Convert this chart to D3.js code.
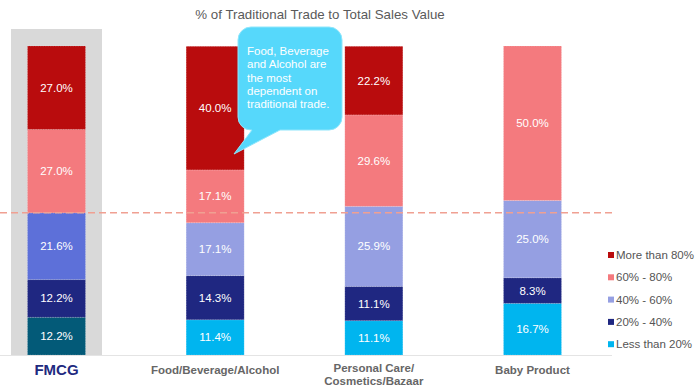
<!DOCTYPE html>
<html>
<head>
<meta charset="utf-8">
<script src="https://cdn.jsdelivr.net/npm/d3@7"></script>
<style>
  html, body { margin: 0; padding: 0; background: #fff; }
  svg { display: block; font-family: "Liberation Sans", Arial, Helvetica, sans-serif; }
</style>
</head>
<body>
<svg id="chart" width="700" height="391"></svg>
<script>
// ---- data ----
const title = "% of Traditional Trade to Total Sales Value";
const categories = ["FMCG", "Food/Beverage/Alcohol", "Personal Care/\nCosmetics/Bazaar", "Baby Product"];
const seriesNames = ["Less than 20%", "20% - 40%", "40% - 60%", "60% - 80%", "More than 80%"];
const lessThan20 = [12.2, 11.4, 11.1, 16.7];
const from20to40 = [12.2, 14.3, 11.1, 8.3];
const from40to60 = [21.6, 17.1, 25.9, 25.0];
const from60to80 = [27.0, 17.1, 29.6, 50.0];
const moreThan80 = [27.0, 40.0, 22.2, 0];
const referenceLevel = 46; // dashed line level (FMCG bottom three bands)
const calloutLines = ["Food, Beverage", "and Alcohol are", "the most", "dependent on", "traditional trade."];

// ---- styles ----
const colors = ["#00b5ef", "#1f2781", "#959fe2", "#f47a7e", "#b90c0d"];
const fmcgColors = ["#035a78", "#1f2781", "#5d70d9", "#f47a7e", "#b90c0d"];

const seriesValues = [lessThan20, from20to40, from40to60, from60to80, moreThan80];
const table = categories.map((c, i) => {
  const row = { category: c };
  seriesNames.forEach((s, j) => row[s] = seriesValues[j][i]);
  return row;
});

const svg = d3.select("#chart");
const x = d3.scalePoint().domain(categories).range([56.5, 532.5]);
const y = d3.scaleLinear().domain([0, 100]).range([355, 46]);
const barW = 58;

// FMCG highlight background
svg.append("rect")
  .attr("x", x(categories[0]) - 45.5).attr("y", 29)
  .attr("width", 91).attr("height", y(0) - 29)
  .attr("fill", "#d9d9d9");

// baseline
svg.append("line")
  .attr("x1", 0).attr("x2", 612).attr("y1", y(0) + 0.5).attr("y2", y(0) + 0.5)
  .attr("stroke", "#e4e4e4").attr("stroke-width", 1);

// stacked bars
const stacked = d3.stack().keys(seriesNames)(table);
const layer = svg.selectAll("g.layer").data(stacked).enter().append("g").attr("class", "layer");
layer.selectAll("rect").data((d, si) => d.map(p => ({ p, si })))
  .enter().append("rect")
  .filter(d => d.p[1] - d.p[0] > 0)
  .attr("x", d => x(d.p.data.category) - barW / 2)
  .attr("y", d => y(d.p[1]))
  .attr("width", barW)
  .attr("height", d => y(d.p[0]) - y(d.p[1]))
  .attr("fill", d => d.p.data.category === "FMCG" ? fmcgColors[d.si] : colors[d.si])
  .attr("stroke", "rgba(255,255,255,0.35)")
  .attr("stroke-width", 0.6)
  .attr("stroke-dasharray", "1.5,1");

// segment labels
layer.selectAll("text").data((d, si) => d.map(p => ({ p, si })))
  .enter().append("text")
  .filter(d => d.p[1] - d.p[0] > 0)
  .attr("x", d => x(d.p.data.category))
  .attr("y", d => (y(d.p[0]) + y(d.p[1])) / 2 + 4)
  .attr("text-anchor", "middle")
  .attr("fill", "#fff")
  .attr("font-size", "11.5px")
  .text(d => (d.p[1] - d.p[0]).toFixed(1) + "%");

// dashed reference line
svg.append("line")
  .attr("x1", 0).attr("x2", 612)
  .attr("y1", y(referenceLevel)).attr("y2", y(referenceLevel))
  .attr("stroke", "#f0a092").attr("stroke-width", 1.5)
  .attr("stroke-dasharray", "7,4");

// title
svg.append("text")
  .attr("x", 320).attr("y", 19)
  .attr("text-anchor", "middle")
  .attr("fill", "#5a5a5a")
  .attr("font-size", "13.3px")
  .text(title);

// category labels
categories.forEach((c, i) => {
  const isF = c === "FMCG";
  const lines = c.split("\n");
  const t = svg.append("text")
    .attr("x", x(c))
    .attr("y", isF ? 375 : 374)
    .attr("text-anchor", "middle")
    .attr("font-weight", "bold")
    .attr("font-size", isF ? "15px" : "11.5px")
    .attr("fill", isF ? "#1f2a80" : "#666");
  if (lines.length > 1) t.attr("y", 372);
  lines.forEach((l, k) => {
    t.append("tspan").attr("x", x(c)).attr("dy", k === 0 ? 0 : 13).text(l);
  });
});

// legend
const legendOrder = seriesNames.slice().reverse();
const legend = svg.append("g");
legendOrder.forEach((s, i) => {
  const cy = 255 + i * 22.3;
  const ci = seriesNames.indexOf(s);
  legend.append("rect").attr("x", 608).attr("y", cy - 3).attr("width", 6).attr("height", 6)
    .attr("fill", colors[ci]);
  legend.append("text").attr("x", 616).attr("y", cy + 4)
    .attr("font-size", "11.5px").attr("fill", "#555").text(s);
});

// callout
const bx = 238, by = 27, bw = 104, bh = 103, r = 13;
const tip = [234, 154], t1 = 252, t2 = 280;
const path = d3.path();
path.moveTo(bx + r, by);
path.lineTo(bx + bw - r, by);
path.arcTo(bx + bw, by, bx + bw, by + r, r);
path.lineTo(bx + bw, by + bh - r);
path.arcTo(bx + bw, by + bh, bx + bw - r, by + bh, r);
path.lineTo(t2, by + bh);
path.lineTo(tip[0], tip[1]);
path.lineTo(t1, by + bh);
path.lineTo(bx + r, by + bh);
path.arcTo(bx, by + bh, bx, by + bh - r, r);
path.lineTo(bx, by + r);
path.arcTo(bx, by, bx + r, by, r);
path.closePath();
svg.append("path").attr("d", path.toString())
  .attr("fill", "#56d8fb").attr("stroke", "#8fe6fb").attr("stroke-width", 1);

const ct = svg.append("text").attr("font-size", "11.5px").attr("fill", "#fff");
calloutLines.forEach((l, k) => {
  ct.append("tspan").attr("x", 247).attr("y", 55 + k * 13.3).text(l);
});
</script>
</body>
</html>
